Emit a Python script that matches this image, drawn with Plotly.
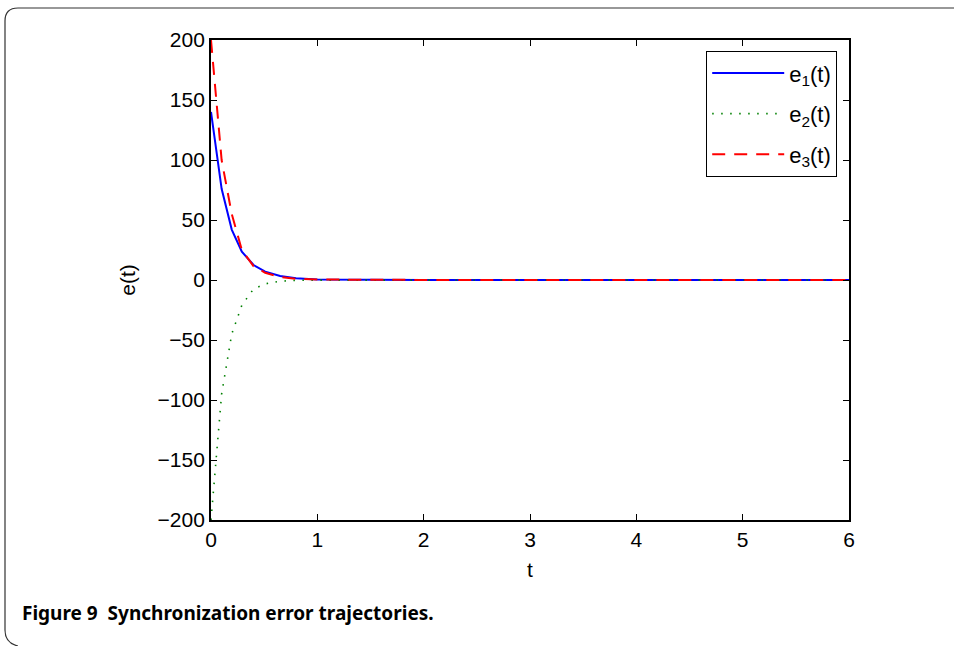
import plotly.graph_objects as go

# time knots (solver steps) and the three error signals
t = [0, 0.1, 0.195, 0.29, 0.4, 0.51, 0.65, 0.8, 1.0, 1.5, 2, 3, 4, 5, 6]
e1 = [140, 76, 42, 23.6, 12.5, 7, 3.3, 1.4, 0.5, 0.1, 0.05, 0, 0, 0, 0]
e2 = [-200, -95, -45, -21, -7.5, -3.2, -1, -0.3, -0.1, 0, 0, 0, 0, 0, 0]
e3 = [200, 100, 55, 25, 11.5, 6, 2.5, 1, 0.4, 0.1, 0.05, 0, 0, 0, 0]

y_ticks = [-200, -150, -100, -50, 0, 50, 100, 150, 200]
y_labels = ['\u2212200', '\u2212150', '\u2212100', '\u221250', '0', '50', '100', '150', '200']
x_ticks = [0, 1, 2, 3, 4, 5, 6]

AX_FONT = 'Liberation Sans'

# plot area in pixels (954x646 page)
L, R, T, B = 211, 849, 40, 520
W, H = 954, 646


def px(x):
    return (x - L) / (R - L)


def py(y):
    return (B - y) / (B - T)


fig = go.Figure()

fig.add_trace(go.Scatter(
    x=t, y=e1, name='e<sub>1</sub>(t)', mode='lines',
    line={'color': '#0000FF', 'width': 2},
    legendgroup='a'
))
fig.add_trace(go.Scatter(
    x=t, y=e2, name='e<sub>2</sub>(t)', mode='lines',
    line={'color': '#008000', 'width': 1.6, 'dash': '1.5px,7.5px'},
    legendgroup='b'
))
fig.add_trace(go.Scatter(
    x=t, y=e3, name='e<sub>3</sub>(t)', mode='lines',
    line={'color': '#FF0000', 'width': 2, 'dash': '13px,9px'},
    legendgroup='c'
))

fig.update_xaxes(
    range=[0, 6], tickvals=x_ticks, ticks='inside', ticklen=6, tickwidth=1.2,
    tickcolor='black', showline=True, linecolor='black', linewidth=1.8,
    mirror='ticks', showgrid=False, zeroline=False,
    tickfont={'size': 21, 'color': 'black', 'family': AX_FONT},
    title={'text': 't', 'font': {'size': 21, 'color': 'black', 'family': AX_FONT}, 'standoff': 12}
)
fig.update_yaxes(
    range=[-200, 200], tickvals=y_ticks, ticktext=y_labels, ticks='inside', ticklen=6,
    tickwidth=1.2, tickcolor='black', showline=True, linecolor='black', linewidth=1.8,
    mirror='ticks', showgrid=False, zeroline=False,
    tickfont={'size': 21, 'color': 'black', 'family': AX_FONT},
    title={'text': 'e(t)', 'font': {'size': 21, 'color': 'black', 'family': AX_FONT}, 'standoff': 16}
)

# frame around the figure (card with rounded corners)
frame_path = (
    f'M {px(W + 5)} {py(8)} L {px(18)} {py(8)} '
    f'Q {px(5)} {py(8)} {px(5)} {py(21)} '
    f'L {px(5)} {py(630)} Q {px(5)} {py(643)} {px(18)} {py(646)}'
)

fig.update_layout(
    width=W, height=H,
    plot_bgcolor='white', paper_bgcolor='white',
    margin={'l': L, 'r': W - R, 't': T, 'b': H - B},
    showlegend=True,
    legend={
        'x': px(837), 'y': py(51), 'xanchor': 'right', 'yanchor': 'top',
        'bordercolor': 'black', 'borderwidth': 1.2, 'bgcolor': 'white',
        'font': {'size': 22, 'color': 'black', 'family': AX_FONT},
        'itemwidth': 72, 'traceorder': 'grouped', 'tracegroupgap': 9,
    },
    shapes=[{
        'type': 'path', 'path': frame_path, 'xref': 'paper', 'yref': 'paper',
        'line': {'color': '#333333', 'width': 1.2}, 'layer': 'below'
    }],
    annotations=[{
        'text': '<b>Figure 9  Synchronization error trajectories.</b>',
        'xref': 'paper', 'yref': 'paper', 'x': px(20), 'y': py(613),
        'xanchor': 'left', 'yanchor': 'middle', 'showarrow': False,
        'font': {'size': 19, 'color': 'black', 'family': 'Noto Sans'}
    }],
)

fig.write_html('out.html', config={'displayModeBar': False},
               post_script="document.body.style.margin='0';")
